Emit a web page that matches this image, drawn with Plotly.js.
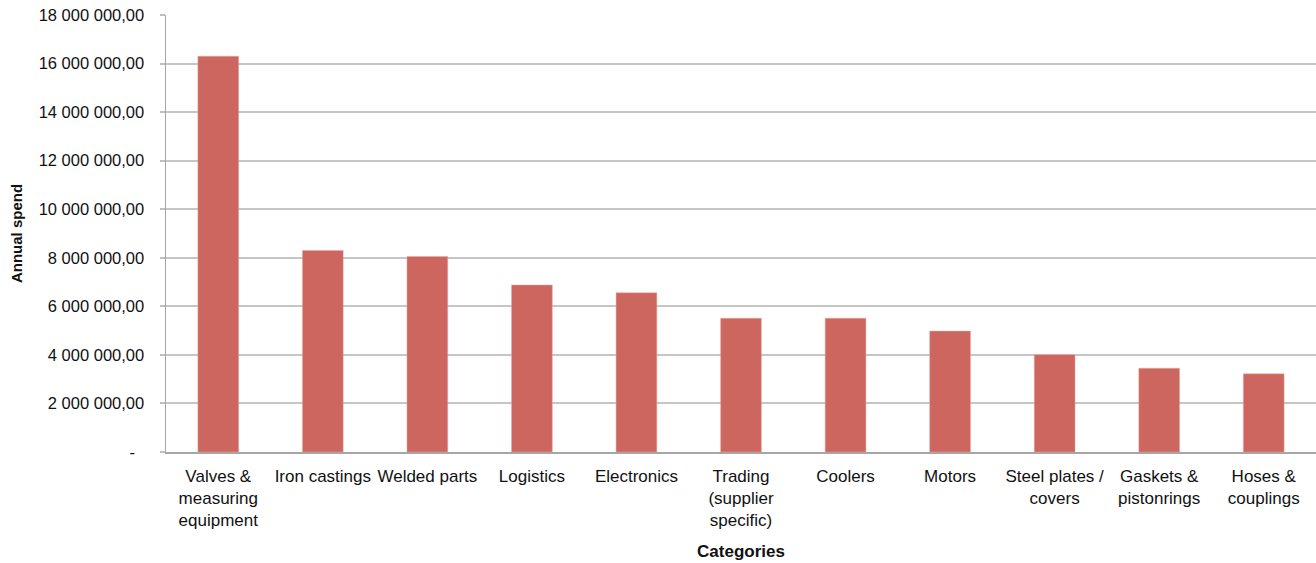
<!DOCTYPE html>
<html>
<head>
<meta charset="utf-8">
<script src="https://cdn.plot.ly/plotly-3.0.1.min.js"></script>
<style>html,body{margin:0;padding:0;background:#fff;}#chart{width:1316px;height:563px;}</style>
</head>
<body>
<div id="chart"></div>
<script>
const categories = [
  "Valves &<br>measuring<br>equipment",
  "Iron castings",
  "Welded parts",
  "Logistics",
  "Electronics",
  "Trading<br>(supplier<br>specific)",
  "Coolers",
  "Motors",
  "Steel plates /<br>covers",
  "Gaskets &<br>pistonrings",
  "Hoses &<br>couplings"
];
const annualSpend = [16300000, 8300000, 8050000, 6880000, 6560000, 5510000, 5510000, 4980000, 4010000, 3450000, 3220000];
const yTickVals = [0, 2e6, 4e6, 6e6, 8e6, 10e6, 12e6, 14e6, 16e6, 18e6];
const yTickText = ["-\u00a0\u00a0", "2 000 000,00", "4 000 000,00", "6 000 000,00", "8 000 000,00", "10 000 000,00", "12 000 000,00", "14 000 000,00", "16 000 000,00", "18 000 000,00"];

const textColor = "#111111";
const fontFam = "Liberation Sans, Arial, sans-serif";

const trace = {
  type: "bar",
  x: categories,
  y: annualSpend,
  marker: {color: "#CC665E", line: {color: "#E8A9A3", width: 0.5}},
  hoverinfo: "x+y"
};

const layout = {
  width: 1316, height: 563,
  margin: {l: 166, r: 0, t: 15, b: 111},
  paper_bgcolor: "#fff", plot_bgcolor: "#fff",
  showlegend: false,
  bargap: 0.61,
  font: {family: fontFam, size: 17, color: textColor},
  xaxis: {
    type: "category",
    showline: true, linecolor: "#A6A6A6", linewidth: 1.5,
    ticks: "", showgrid: false, zeroline: false,
    tickfont: {family: fontFam, size: 17, color: textColor},
    tickangle: 0,
    ticklabelstandoff: 8,
    automargin: false,
    title: {text: "<b>Categories</b>", font: {family: fontFam, size: 17, color: textColor}, standoff: 16}
  },
  yaxis: {
    range: [0, 18e6],
    tickmode: "array", tickvals: yTickVals, ticktext: yTickText,
    showline: true, linecolor: "#A6A6A6", linewidth: 1.5,
    ticks: "outside", ticklen: 5, tickcolor: "#BFBFBF", tickwidth: 2,
    ticklabelstandoff: 12,
    showgrid: true, gridcolor: "#C6C6C6", gridwidth: 2,
    zeroline: false,
    tickfont: {family: fontFam, size: 16.5, color: textColor},
    automargin: false,
    title: {text: "<b>Annual spend</b>", font: {family: fontFam, size: 15, color: textColor}, standoff: 12}
  }
};

Plotly.newPlot("chart", [trace], layout, {displayModeBar: false, staticPlot: true});
</script>
</body>
</html>
